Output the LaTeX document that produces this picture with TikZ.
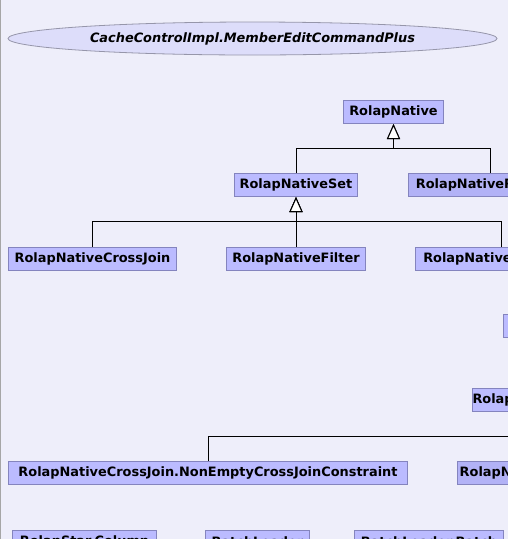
\documentclass[tikz,border=0pt]{standalone}
\usepackage{fontspec}
\setmainfont{DejaVu Sans}
\usetikzlibrary{arrows.meta,shapes.geometric}
\definecolor{bgc}{RGB}{238,238,250}
\definecolor{boxfill}{RGB}{187,187,255}
\definecolor{boxfilldark}{RGB}{178,178,246}
\definecolor{boxline}{RGB}{132,132,190}
\definecolor{ellfill}{RGB}{221,221,250}
\definecolor{ellline}{RGB}{150,150,170}
\tikzset{
  cls/.style={draw=boxline, fill=boxfill, line width=1pt, rectangle, inner sep=0pt,
    anchor=north west, minimum height=23pt, font=\fontsize{12.9}{14}\selectfont\bfseries},
  inh/.style={draw=black, line width=1pt, -{Triangle[fill=white, length=15pt, width=13pt, line width=1pt]}},
}
\begin{document}
\begin{tikzpicture}[x=1pt,y=-1pt]
\useasboundingbox (0,0) rectangle (508,539);
\fill[bgc] (0,0) rectangle (508,539);
\draw[color=gray!70, line width=1pt] (0.5,0) -- (0.5,539);
\clip (0,0) rectangle (508,539);
\node[ellipse, draw=ellline, fill=ellfill, line width=0.8pt, inner sep=0pt,
  minimum width=489pt, minimum height=33pt,
  font=\fontsize{12.9}{14}\selectfont\bfseries\itshape] (cmd) at (252.5,38.5)
  {CacheControlImpl.MemberEditCommandPlus};
\node[cls, minimum width=100pt] (native) at (343,100) {RolapNative};
\node[cls, minimum width=123pt] (set) at (234,173) {RolapNativeSet};
\node[cls, minimum width=164pt, fill=boxfilldark] (registry) at (408,173) {RolapNativeRegistry};
\node[cls, minimum width=168pt] (crossjoin) at (8,246.5) {RolapNativeCrossJoin};
\node[cls, minimum width=139pt] (filter) at (226,246.5) {RolapNativeFilter};
\node[cls, minimum width=172pt] (topcount) at (415,246.5) {RolapNativeTopCount};
\node[cls, minimum width=120pt] (other) at (503,314) {};
\node[cls, minimum width=200pt] (setcons) at (472,387.5) {RolapNativeSet.SetConstraint};
\node[cls, minimum width=399pt] (nonempty) at (8,461) {RolapNativeCrossJoin.NonEmptyCrossJoinConstraint};
\node[cls, minimum width=250pt, fill=boxfilldark] (filtercons) at (457,461) {RolapNativeFilter.FilterConstraint};
\node[cls, minimum width=144pt] (starcol) at (12,530) {RolapStar.Column};
\node[cls, minimum width=104pt] (loader) at (205,530) {BatchLoader};
\node[cls, minimum width=149pt] (batch) at (354,530) {BatchLoader.Batch};
\coordinate (bus1) at (0,148);
\coordinate (bus2) at (0,221);
\coordinate (bus3) at (0,436);
\draw[inh] (set.north) |- (bus1 -| native.south) -- (native.south);
\draw[inh] (registry.north) |- (bus1 -| native.south) -- (native.south);
\draw[inh] (crossjoin.north) |- (bus2 -| set.south) -- (set.south);
\draw[inh] (filter.north) -- (set.south);
\draw[inh] (topcount.north) |- (bus2 -| set.south) -- (set.south);
\draw[inh] (nonempty.north) |- (bus3 -| setcons.south) -- (setcons.south);
\draw[inh] (filtercons.north) |- (bus3 -| setcons.south) -- (setcons.south);
\end{tikzpicture}
\end{document}
